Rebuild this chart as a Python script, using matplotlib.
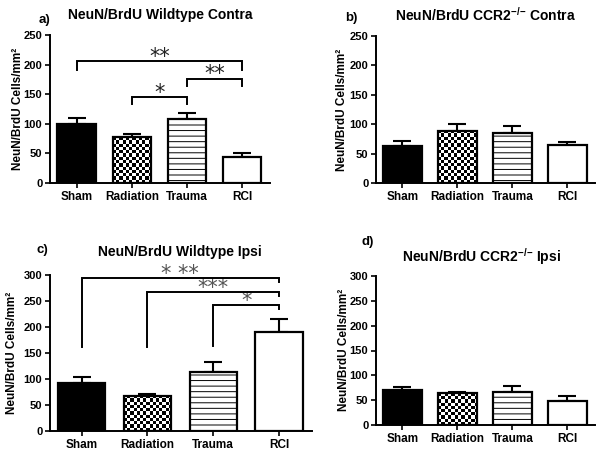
import matplotlib
matplotlib.use("Agg")
import matplotlib.pyplot as plt
import numpy as np

plt.rcParams["font.family"] = ["Liberation Sans", "DejaVu Sans"]
plt.rcParams["font.weight"] = "bold"
plt.rcParams["mathtext.fontset"] = "custom"
plt.rcParams["mathtext.rm"] = "Liberation Sans"
plt.rcParams["mathtext.bf"] = "Liberation Sans:bold"
plt.rcParams["hatch.linewidth"] = 0.7

# ── Data ──────────────────────────────────────────────────────────────────────

GROUPS = ["Sham", "Radiation", "Trauma", "RCI"]

WT_CONTRA_MEAN = [100, 77, 108, 44]
WT_CONTRA_SEM = [10, 6, 11, 6]
KO_CONTRA_MEAN = [63, 89, 85, 64]
KO_CONTRA_SEM = [9, 11, 12, 6]
WT_IPSI_MEAN = [93, 68, 114, 191]
WT_IPSI_SEM = [10, 4, 19, 25]
KO_IPSI_MEAN = [71, 64, 66, 48]
KO_IPSI_SEM = [6, 3, 13, 10]

# significance brackets: (group a, group b, bar height, left leg end, right leg end, label)
WT_CONTRA_SIG = [(0, 3, 206, 191, 191, "**"),
                 (2, 3, 176, 164, 164, "**"),
                 (1, 2, 145, 133, 133, "*")]
WT_IPSI_SIG = [(0, 3, 294, 162, 286, "* **"),
               (1, 3, 267, 162, 259, "***"),
               (2, 3, 242, 164, 234, "*")]

KO_SUP = r"$^{{-}/{-}}$"

W, H = 602, 453
fig = plt.figure(figsize=(W / 100, H / 100), dpi=100)


def px_axes(l, t, r, b):
    return fig.add_axes([l / W, 1 - b / H, (r - l) / W, (b - t) / H])


def checker(ax, bar, cell=3.2):
    x0, y0 = bar.get_x(), bar.get_y()
    x1, y1 = x0 + bar.get_width(), y0 + bar.get_height()
    p0 = ax.transData.transform((x0, y0))
    p1 = ax.transData.transform((x1, y1))
    nx = max(1, int(round((p1[0] - p0[0]) / cell)))
    ny = max(1, int(round((p1[1] - p0[1]) / cell)))
    arr = np.indices((ny, nx)).sum(axis=0) % 2
    ax.imshow(arr, cmap="binary", extent=(x0, x1, y0, y1), origin="lower",
              interpolation="nearest", aspect="auto", zorder=2)


def panel(box, means, sems, ymax, width, title, tag, title_xy, tag_xy, ylab_xy,
          sig=None, sig_color="black"):
    ax = px_axes(*box)
    x = np.arange(len(GROUPS))
    ax.set_xlim(-0.48, 3.5)
    ax.set_ylim(0, ymax)

    ax.errorbar(x, means, yerr=[np.zeros(len(sems)), sems], fmt="none",
                ecolor="black", elinewidth=1.5, capsize=6.5, capthick=1.5, zorder=1)

    faces = ["black", "white", "white", "white"]
    hatches = [None, None, "---", None]
    bars = ax.bar(x, means, width=width, color=faces, edgecolor="black",
                  linewidth=0, zorder=1.5)
    for b, h in zip(bars, hatches):
        if h:
            b.set_hatch(h)
    checker(ax, bars[1])
    ax.bar(x, means, width=width, fill=False, edgecolor="black", linewidth=1.6, zorder=3)

    ax.set_xlim(-0.48, 3.5)
    ax.set_ylim(0, ymax)
    ax.set_yticks(np.arange(0, ymax + 1, 50))
    ax.set_xticks(x)
    ax.set_xticklabels(GROUPS, fontsize=8.5, fontweight="bold")
    for t in ax.get_yticklabels():
        t.set_fontsize(8)
        t.set_fontweight("bold")
    ax.tick_params(axis="both", width=1.2, length=3.5, pad=2)
    ax.spines["top"].set_visible(False)
    ax.spines["right"].set_visible(False)
    ax.spines["left"].set_linewidth(1.4)
    ax.spines["bottom"].set_linewidth(1.4)
    for s in ax.spines.values():
        s.set_zorder(4)

    if sig:
        for a, b, y, la, lb, lab in sig:
            ax.plot([a, a, b, b], [la, y, y, lb], color="black", lw=1.4,
                    clip_on=False, zorder=4, solid_joinstyle="miter")
            ax.annotate(lab, xy=((a + b) / 2, y), xytext=(0, -1.2),
                        textcoords="offset points", ha="center", va="baseline",
                        fontsize=15, fontweight="normal", family="DejaVu Sans",
                        color=sig_color, annotation_clip=False)

    fig.text(title_xy[0] / W, 1 - title_xy[1] / H, title, ha="center", va="center",
             fontsize=10, fontweight="bold")
    fig.text(tag_xy[0] / W, 1 - tag_xy[1] / H, tag, ha="center", va="center",
             fontsize=9.5, fontweight="bold")
    fig.text(ylab_xy[0] / W, 1 - ylab_xy[1] / H, "NeuN/BrdU Cells/mm²",
             ha="center", va="center", rotation=90, fontsize=8.5, fontweight="bold")
    return ax


panel((50, 35, 270, 183), WT_CONTRA_MEAN, WT_CONTRA_SEM, 250, 0.69,
      "NeuN/BrdU Wildtype Contra", "a)", (160, 15), (44, 20), (18, 109),
      sig=WT_CONTRA_SIG, sig_color="#222222")
panel((376, 36, 595, 183), KO_CONTRA_MEAN, KO_CONTRA_SEM, 250, 0.70,
      "NeuN/BrdU CCR2" + KO_SUP + " Contra", "b)", (485, 15), (351, 18), (342, 110))
panel((50, 275, 312, 431), WT_IPSI_MEAN, WT_IPSI_SEM, 300, 0.72,
      "NeuN/BrdU Wildtype Ipsi", "c)", (180, 252), (42, 250), (12, 353),
      sig=WT_IPSI_SIG, sig_color="#555555")
panel((376, 276, 595, 425), KO_IPSI_MEAN, KO_IPSI_SEM, 300, 0.72,
      "NeuN/BrdU CCR2" + KO_SUP + " Ipsi", "d)", (481, 257), (368, 242), (344, 350))

fig.savefig("out.png", dpi=100)
